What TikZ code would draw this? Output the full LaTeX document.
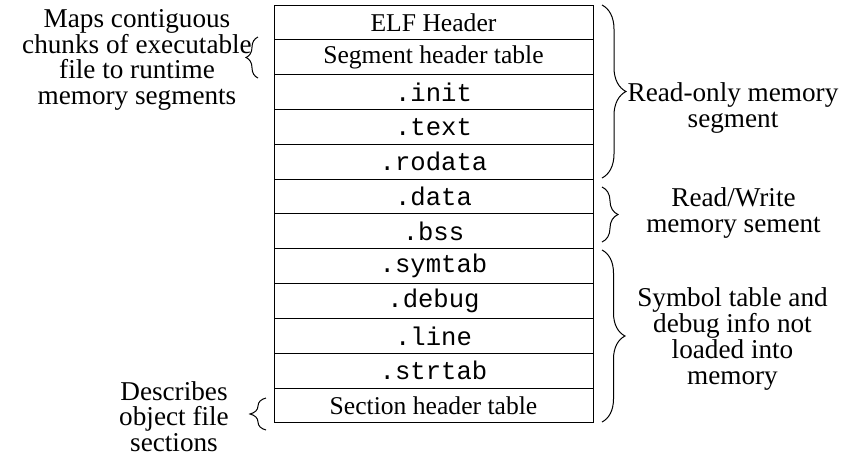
\documentclass[tikz,border=0pt]{standalone}
\usepackage{fontspec}
\setmainfont{Liberation Serif}
\setmonofont{Liberation Mono}
\usetikzlibrary{decorations.pathreplacing}
\begin{document}
\begin{tikzpicture}[x=0.5pt,y=-0.5pt,
  rowbox/.style={draw,line width=0.5pt,minimum width=159.5pt,minimum height=17.4pt,inner sep=0pt,
    font=\fontsize{12.8pt}{13.5pt}\selectfont},
  lbl/.style={align=center,inner sep=0pt,font=\fontsize{13.6pt}{12.9pt}\selectfont},
  brc/.style={decorate,line width=0.5pt}]
\useasboundingbox (0,0) rectangle (859,456);
\def\rh{34.83}
\foreach \t [count=\i from 0] in {ELF Header,Segment header table,\texttt{.init},\texttt{.text},\texttt{.rodata},\texttt{.data},\texttt{.bss},\texttt{.symtab},\texttt{.debug},\texttt{.line},\texttt{.strtab},Section header table}
  \node[rowbox] (r\i) at (433.5,{5+\rh*(\i+0.5)}) {\t};
\coordinate (b1t) at (602,5);
\coordinate (b1b) at (602,178);
\coordinate (b2t) at (602,187);
\coordinate (b2b) at (602,242);
\coordinate (b3t) at (602,250);
\coordinate (b3b) at (602,422);
\coordinate (l1t) at (258,37);
\coordinate (l1b) at (258,78);
\coordinate (l2t) at (266,398);
\coordinate (l2b) at (266,430);
\draw[brc,decoration={brace,amplitude=12pt}] (b1t) -- (b1b);
\draw[brc,decoration={brace,amplitude=8pt}] (b2t) -- (b2b);
\draw[brc,decoration={brace,amplitude=11.5pt}] (b3t) -- (b3b);
\draw[brc,decoration={brace,amplitude=6pt}] (l1b) -- (l1t);
\draw[brc,decoration={brace,amplitude=8pt}] (l2b) -- (l2t);
\node[lbl] (t1) at (137,60) {Maps contiguous\\chunks of executable\\file to runtime\\memory segments};
\node[lbl] (t2) at (174,416.5) {Describes\\object file\\sections};
\node[lbl] (t3) at (733,108) {Read-only memory\\segment};
\node[lbl] (t4) at (733.5,213) {Read/Write\\memory sement};
\node[lbl] (t5) at (732.5,339) {Symbol table and\\debug info not\\loaded into\\memory};
\end{tikzpicture}
\end{document}
